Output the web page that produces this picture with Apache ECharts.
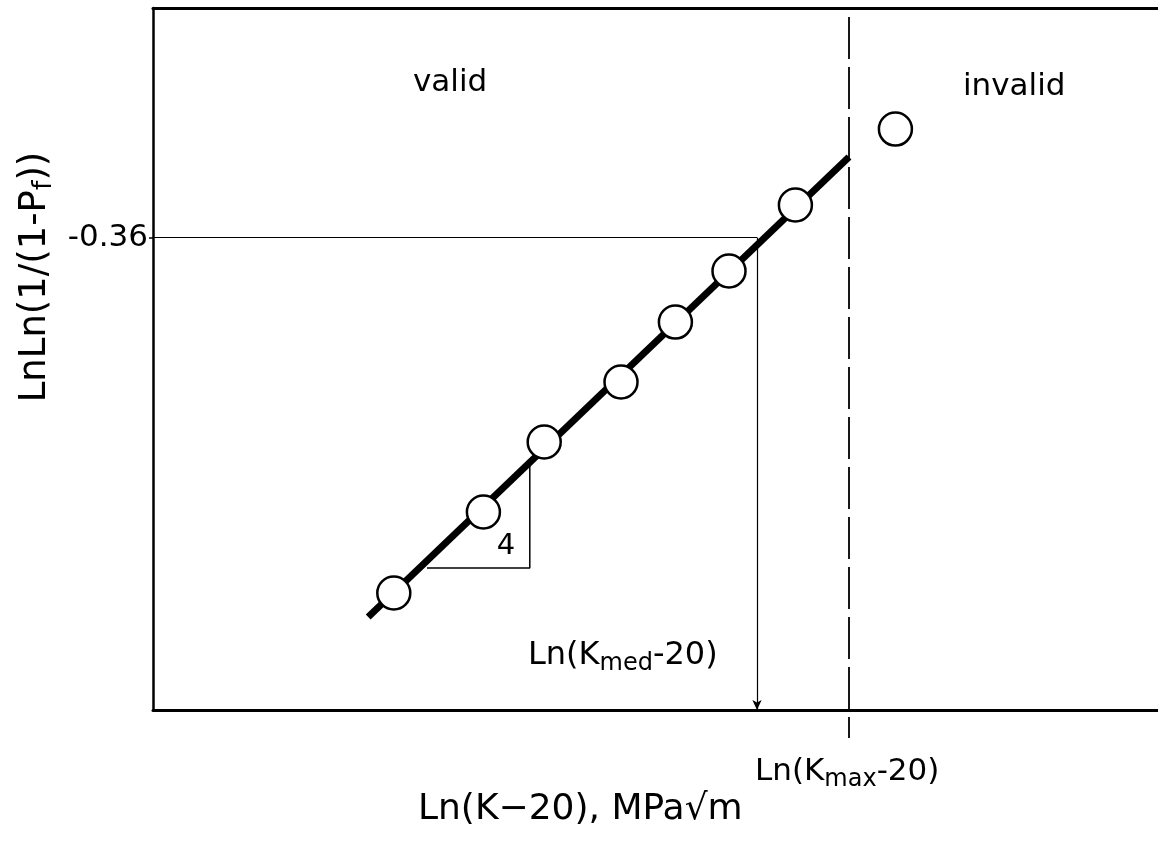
<!DOCTYPE html>
<html>
<head>
<meta charset="utf-8">
<script src="https://cdn.jsdelivr.net/npm/echarts@6/dist/echarts.min.js"></script>
<style>
html,body{margin:0;padding:0;background:#fff;}
#chart{width:1158px;height:843px;}
</style>
</head>
<body>
<div id="chart"></div>
<script>
// Schematic Weibull plot: x = Ln(K-20), y = LnLn(1/(1-Pf))
const xRange = [3.6, 4.85625];
const yRange = [-2.83, 0.84];
const validPoints = [
  [3.901, -2.218],
  [4.013, -1.795],
  [4.089, -1.429],
  [4.185, -1.115],
  [4.253, -0.802],
  [4.320, -0.535],
  [4.403, -0.190]
];
const invalidPoints = [[4.528, 0.207]];
const fitLine = [[3.869, -2.344], [4.470, 0.061]];
const pfMedian = -0.36;
const lnKmed = 4.355;
const lnKmax = 4.470;
const slopeTriangle = [[3.9425, -2.088], [4.071, -2.088], [4.071, -1.545]];
const kmaxLineY = [0.793, -2.976];
const yTickLabels = [-0.36];

const font = 'DejaVu Sans';
const chart = echarts.init(document.getElementById('chart'), null, {renderer: 'canvas'});

const markerStyle = {color: '#fff', borderColor: '#000', borderWidth: 2.5, opacity: 1};

const option = {
  animation: false,
  backgroundColor: '#fff',
  grid: {left: 153, right: 0, top: 8, bottom: 133, containLabel: false},
  xAxis: [{
    type: 'value', min: xRange[0], max: xRange[1], position: 'bottom',
    axisLine: {show: true, onZero: false, lineStyle: {color: '#000', width: 3}},
    axisTick: {show: false}, axisLabel: {show: false}, splitLine: {show: false}
  }, {
    type: 'value', min: xRange[0], max: xRange[1], position: 'top',
    axisLine: {show: true, onZero: false, lineStyle: {color: '#000', width: 3}},
    axisTick: {show: false}, axisLabel: {show: false}, splitLine: {show: false}
  }],
  yAxis: {
    type: 'value', min: yRange[0], max: yRange[1],
    axisLine: {show: true, onZero: false, lineStyle: {color: '#000', width: 2.5}},
    axisTick: {show: true, customValues: yTickLabels, length: 4, inside: false, lineStyle: {color: '#000', width: 1.5}},
    axisLabel: {show: true, customValues: yTickLabels, margin: 5, color: '#000', fontFamily: font, fontSize: 31,
      formatter: v => v.toFixed(2)},
    splitLine: {show: false}
  },
  series: [
    {
      name: 'median', type: 'line', data: [], silent: true,
      markLine: {
        silent: true, animation: false,
        symbol: ['none', 'arrow'], symbolSize: 10,
        label: {show: false},
        lineStyle: {color: '#000', width: 1.2, type: 'solid', opacity: 1},
        data: [
          [{coord: [xRange[0], pfMedian], symbol: 'none'}, {coord: [lnKmed, pfMedian], symbol: 'none'}],
          [{coord: [lnKmed, pfMedian], symbol: 'none'}, {coord: [lnKmed, yRange[0]], symbol: 'arrow', symbolSize: [7, 10]}]
        ]
      }
    },
    {
      name: 'kmax', type: 'line', clip: false, silent: true, showSymbol: false,
      data: [[lnKmax, kmaxLineY[0]], [lnKmax, kmaxLineY[1]]],
      lineStyle: {color: '#000', width: 1.8, type: [42, 8], opacity: 1}
    },
    {
      name: 'triangle', type: 'line', silent: true, showSymbol: false,
      data: slopeTriangle,
      lineStyle: {color: '#000', width: 1.5}
    },
    {
      name: 'fit', type: 'line', silent: true, showSymbol: false,
      data: fitLine,
      lineStyle: {color: '#000', width: 7, cap: 'butt'}
    },
    {
      name: 'valid', type: 'scatter', data: validPoints, symbol: 'circle', symbolSize: 33,
      itemStyle: markerStyle, z: 5
    },
    {
      name: 'invalid', type: 'scatter', data: invalidPoints, symbol: 'circle', symbolSize: 33,
      itemStyle: markerStyle, z: 5
    }
  ],
  graphic: [
    {type: 'text', left: 413, top: 67, style: {text: 'valid', font: '31px "DejaVu Sans"', fill: '#000'}},
    {type: 'text', left: 963, top: 71, style: {text: 'invalid', font: '31px "DejaVu Sans"', fill: '#000'}},
    {type: 'text', x: 506, y: 546, style: {text: '4', font: '29px "DejaVu Sans"', fill: '#000', align: 'center', verticalAlign: 'middle'}},
    {type: 'text', x: 528, y: 656, style: {
      text: '{n|Ln(K}{s|med}{n|-20)}', fill: '#000', align: 'left', verticalAlign: 'middle',
      rich: {n: {fontFamily: font, fontSize: 32, lineHeight: 40, color: '#000'},
             s: {fontFamily: font, fontSize: 24, lineHeight: 24, verticalAlign: 'bottom', color: '#000'}}
    }},
    {type: 'text', x: 755, y: 772, style: {
      text: '{n|Ln(K}{s|max}{n|-20)}', fill: '#000', align: 'left', verticalAlign: 'middle',
      rich: {n: {fontFamily: font, fontSize: 31, lineHeight: 40, color: '#000'},
             s: {fontFamily: font, fontSize: 24, lineHeight: 24, verticalAlign: 'bottom', color: '#000'}}
    }},
    {type: 'text', x: 418, y: 810, style: {
      text: 'Ln(K−20), MPa√m', font: '36px "DejaVu Sans"', fill: '#000', align: 'left', verticalAlign: 'middle'
    }},
    {type: 'text', x: 35, y: 277, rotation: Math.PI / 2, style: {
      text: '{n|LnLn(1/(1-P}{s|f}{n|))}', fill: '#000', align: 'center', verticalAlign: 'middle',
      rich: {n: {fontFamily: font, fontSize: 37, lineHeight: 44, color: '#000'},
             s: {fontFamily: font, fontSize: 27, lineHeight: 27, verticalAlign: 'bottom', color: '#000'}}
    }}
  ]
};
chart.setOption(option);
</script>
</body>
</html>
